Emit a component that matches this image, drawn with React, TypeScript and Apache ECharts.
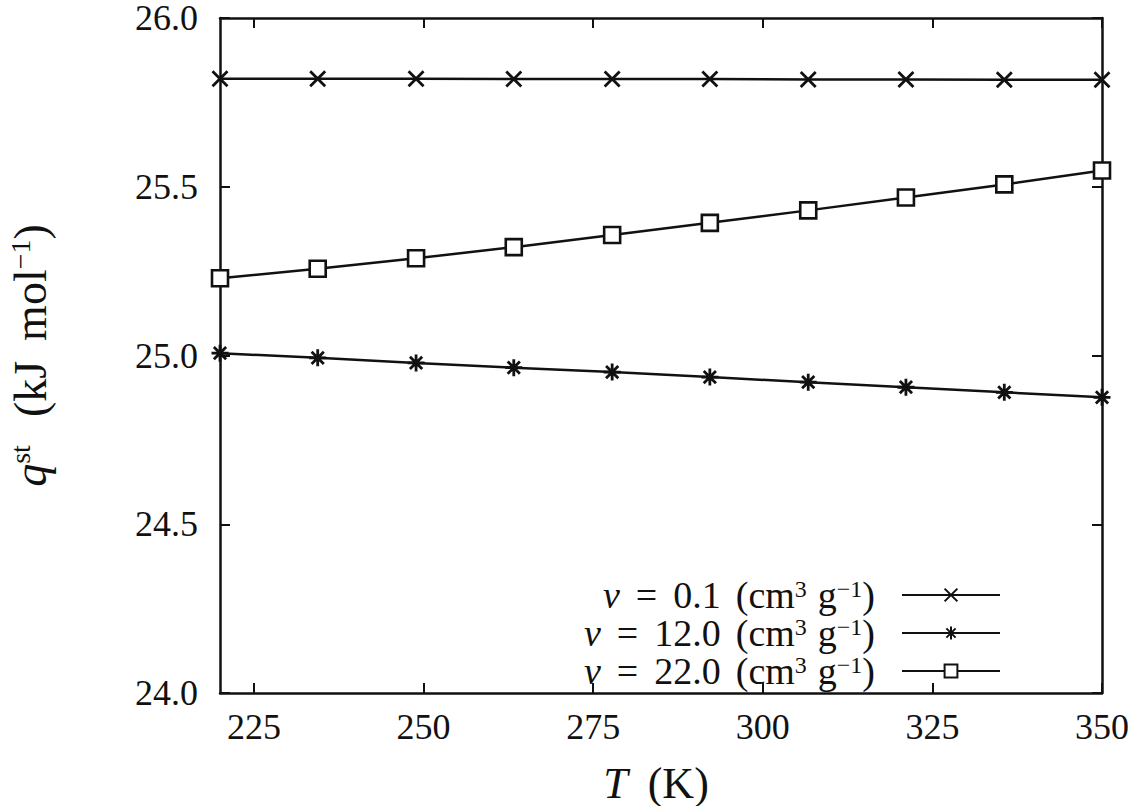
import React, { useEffect, useRef } from "react";
import * as echarts from "echarts";

const temps = [220, 234.4, 248.9, 263.3, 277.8, 292.2, 306.7, 321.1, 335.6, 350];
const qV01 = [25.82, 25.82, 25.82, 25.819, 25.819, 25.819, 25.818, 25.818, 25.817, 25.817];
const qV12 = [25.007, 24.993, 24.978, 24.964, 24.951, 24.936, 24.921, 24.906, 24.891, 24.876];
const qV22 = [25.229, 25.257, 25.288, 25.321, 25.357, 25.393, 25.43, 25.468, 25.507, 25.548];
const xTicks = [225, 250, 275, 300, 325, 350];
const seriesNames = ["v = 0.1 (cm3 g-1)", "v = 12.0 (cm3 g-1)", "v = 22.0 (cm3 g-1)"];
const legendValues = ["0.1", "12.0", "22.0"];

const FONT = "'Liberation Serif', 'DejaVu Serif', serif";
const INK = "#111";

const crossPath = "path://M0,0L10,10M10,0L0,10";
const starPath = "path://M5,0L5,10M0,5L10,5M1.4,1.4L8.6,8.6M8.6,1.4L1.4,8.6";

export default function App() {
  const ref = useRef<HTMLDivElement>(null);
  useEffect(() => {
    if (!ref.current) return;
    const chart = echarts.init(ref.current, null, { renderer: "svg" });
    const zip = (ys: number[]) => temps.map((t, i) => [t, ys[i]]);
    const base = {
      type: "line",
      lineStyle: { color: INK, width: 2.5 },
      symbolKeepAspect: true,
    };
    const LF = 38;
    const option: any = {
      animation: false,
      grid: { left: 220, right: 27, top: 18, bottom: 113, containLabel: false, outerBoundsMode: "none" },
      legend: {
        orient: "vertical",
        align: "right",
        right: 123,
        top: 571,
        itemWidth: 98,
        itemHeight: 16,
        itemGap: 0,
        data: seriesNames,
        formatter: (name: string) => {
          const idx = seriesNames.indexOf(name);
          return `{i|v}{s|}{n|=}{s|}{n|${legendValues[idx]}}{s2|}{n|(cm}{sup|3}{s3|}{n|g}{sup|−1}{n|)}{gap|}`;
        },
        textStyle: {
          color: INK,
          fontFamily: FONT,
          rich: {
            n: { fontSize: LF, fontFamily: FONT, color: INK, lineHeight: 37 },
            i: { fontSize: LF, fontFamily: FONT, fontStyle: "italic", color: INK, lineHeight: 37 },
            sup: { fontSize: 24, fontFamily: FONT, color: INK, verticalAlign: "top", lineHeight: 20 },
            s: { width: 16, lineHeight: 37 },
            s2: { width: 15, lineHeight: 37 },
            s3: { width: 11, lineHeight: 37 },
            gap: { width: 22, lineHeight: 37 },
          },
        },
      },
      xAxis: [
        {
          type: "value",
          min: 220,
          max: 350,
          position: "bottom",
          name: "{i|T}{s|}{n|(K)}",
          nameLocation: "middle",
          nameGap: 68,
          nameTextStyle: {
            padding: [0, 10, 0, 0],
            rich: {
              n: { fontSize: 44, fontFamily: FONT, color: INK },
              i: { fontSize: 44, fontFamily: FONT, fontStyle: "italic", color: INK },
              s: { width: 20 },
            },
          },
          axisLine: { show: true, lineStyle: { color: INK, width: 2.5 } },
          axisTick: { show: true, inside: true, length: 10, customValues: xTicks, lineStyle: { color: INK, width: 2 } },
          axisLabel: { customValues: xTicks, fontSize: 36, fontFamily: FONT, color: INK, margin: 16 },
          splitLine: { show: false },
        },
        {
          type: "value",
          min: 220,
          max: 350,
          position: "top",
          axisLine: { show: true, lineStyle: { color: INK, width: 2.5 } },
          axisTick: { show: true, inside: true, length: 10, customValues: xTicks, lineStyle: { color: INK, width: 2 } },
          axisLabel: { show: false },
          splitLine: { show: false },
        },
      ],
      yAxis: [
        {
          type: "value",
          min: 24,
          max: 26,
          interval: 0.5,
          position: "left",
          name: "{i|q}{sup|st}{s|}{n|(kJ}{s2|}{n|mol}{sup|−1}{n|)}",
          nameLocation: "middle",
          nameGap: 166,
          nameRotate: 90,
          nameTextStyle: {
            rich: {
              n: { fontSize: 46, fontFamily: FONT, color: INK, lineHeight: 48 },
              i: { fontSize: 46, fontFamily: FONT, fontStyle: "italic", color: INK, lineHeight: 48 },
              sup: { fontSize: 28, fontFamily: FONT, color: INK, verticalAlign: "top", lineHeight: 24 },
              s: { width: 28, lineHeight: 48 },
              s2: { width: 20, lineHeight: 48 },
            },
          },
          axisLine: { show: true, lineStyle: { color: INK, width: 2.5 } },
          axisTick: { show: true, inside: true, length: 10, lineStyle: { color: INK, width: 2 } },
          axisLabel: {
            fontSize: 36,
            lineHeight: 30,
            fontFamily: FONT,
            color: INK,
            margin: 22,
            formatter: (v: number) => v.toFixed(1),
          },
          splitLine: { show: false },
        },
        {
          type: "value",
          min: 24,
          max: 26,
          interval: 0.5,
          position: "right",
          axisLine: { show: true, lineStyle: { color: INK, width: 2.5 } },
          axisTick: { show: true, inside: true, length: 10, lineStyle: { color: INK, width: 2 } },
          axisLabel: { show: false },
          splitLine: { show: false },
        },
      ],
      series: [
        {
          ...base,
          name: seriesNames[0],
          data: zip(qV01),
          symbol: crossPath,
          symbolSize: 15,
          itemStyle: { color: "rgba(0,0,0,0)", borderColor: INK, borderWidth: 2.8 },
        },
        {
          ...base,
          name: seriesNames[1],
          data: zip(qV12),
          symbol: starPath,
          symbolSize: 17,
          itemStyle: { color: "rgba(0,0,0,0)", borderColor: INK, borderWidth: 2.8 },
        },
        {
          ...base,
          name: seriesNames[2],
          data: zip(qV22),
          symbol: "rect",
          symbolSize: 16,
          itemStyle: { color: "#fff", borderColor: INK, borderWidth: 2.6 },
        },
      ],
    };
    chart.setOption(option);
    return () => chart.dispose();
  }, []);
  return (
    <div
      ref={ref}
      style={{ position: "absolute", left: 0, top: 0, width: 1129, height: 806, background: "#fff" }}
    />
  );
}
